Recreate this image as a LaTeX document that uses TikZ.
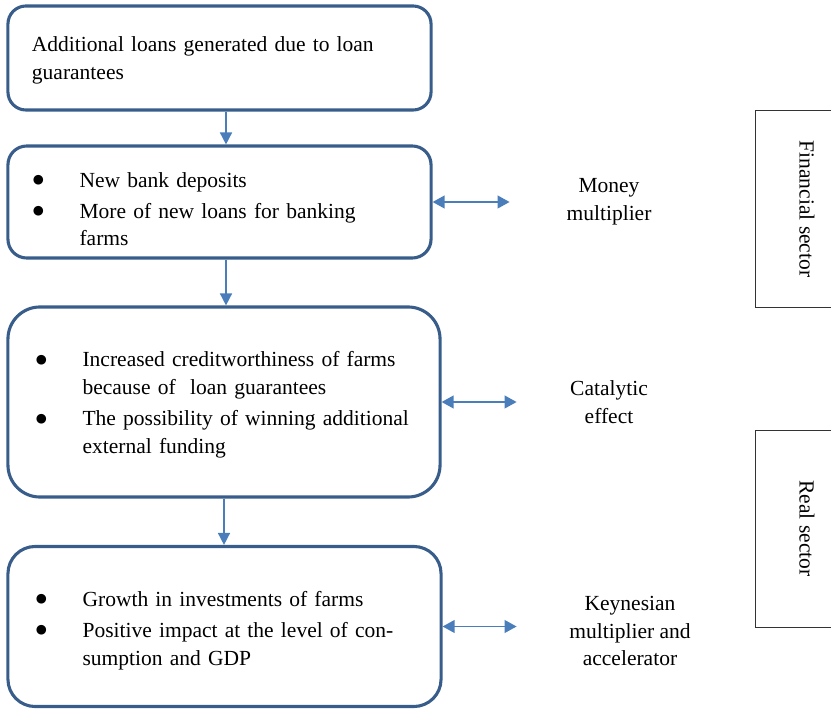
\documentclass[tikz,border=0pt]{standalone}
\usepackage{fontspec}
\setmainfont{Liberation Serif}
\newfontfamily\symfont{DejaVu Sans}
\usepackage{xcolor}
\usepackage{tikz}
\usetikzlibrary{arrows.meta}

\definecolor{boxblue}{HTML}{385D8A}
\definecolor{arrowblue}{HTML}{4A7EBB}

\newcommand{\bul}[1]{\makebox[1.14cm][l]{\hspace{-0.03cm}\raisebox{0.09cm}{\symfont\fontsize{9pt}{9pt}\selectfont ●}}\mbox{#1}}
\newcommand{\bulcont}[1]{\hspace*{1.14cm}\mbox{#1}}

\tikzset{
    flowbox/.style={draw=boxblue, line width=2.2pt, rounded corners=#1, align=left, inner ysep=0pt},
    flowarrow/.style={color=arrowblue, line width=1.1pt, -{Triangle[length=0.3cm,width=0.3cm]}},
    sidearrow/.style={color=arrowblue, line width=1.1pt, {Triangle[length=0.3cm,width=0.32cm]}-{Triangle[length=0.3cm,width=0.32cm]}},
    effect/.style={align=center, inner sep=0pt},
    sector/.style={draw=black!80, line width=0.6pt, rotate=-90, inner sep=0pt, minimum width=4.925cm, minimum height=2.6cm}
}

\begin{document}
\begin{tikzpicture}[x=0.025cm, y=-0.025cm, font=\fontsize{15.3pt}{19.6pt}\selectfont]
        \useasboundingbox (0,0) rectangle (831,709);

        % chain of effects
        \node[flowbox=0.45cm, minimum height=2.6cm, text width=9.375cm, inner xsep=0.6cm] (loans) at (219.5,58)
            {\rule{0pt}{0.5cm}Additional loans generated due to loan\\guarantees};
        \node[flowbox=0.47cm, minimum height=2.8cm, text width=9.275cm, inner xsep=0.65cm] (deposits) at (219.5,202)
            {\rule{0pt}{0.725cm}\bul{New bank deposits}\\[0.09cm]
             \bul{More of new loans for banking}\\
             \bulcont{farms}};
        \node[flowbox=0.8cm, minimum height=4.75cm, text width=9.35cm, inner xsep=0.725cm] (credit) at (224,402)
            {\rule{0pt}{0.525cm}\bul{Increased creditworthiness of farms}\\
             \bulcont{because of\ \ loan guarantees}\\[0.1cm]
             \bul{The possibility of winning additional}\\
             \bulcont{external funding}};
        \node[flowbox=0.68cm, minimum height=4cm, text width=9.375cm, inner xsep=0.725cm] (growth) at (224.5,626.5)
            {\rule{0pt}{0.575cm}\bul{Growth in investments of farms}\\[0.09cm]
             \bul{Positive impact at the level of con-}\\
             \bulcont{sumption and GDP}};

        \draw[flowarrow] ([xshift=0.1625cm]loans.south) -- ([xshift=0.1625cm]loans.south |- deposits.north);
        \draw[flowarrow] ([xshift=0.1625cm]deposits.south) -- ([xshift=0.1625cm]deposits.south |- credit.north);
        \draw[flowarrow] (credit.south) -- (credit.south |- growth.north);

        % multipliers
        \node[effect] (money) at (609,202) {Money\\multiplier};
        \node[effect] (catalytic) at (609,402) {Catalytic\\effect};
        \node[effect] (keynes) at (630,631) {Keynesian\\multiplier and\\accelerator};

        \draw[sidearrow] (deposits.east) -- ++(77,0) coordinate (moneyend);
        \draw[sidearrow] (credit.east) -- ++(75,0) coordinate (catalyticend);
        \draw[sidearrow] (growth.east) -- ++(74,0) coordinate (keynesend);

        % sectors
        \node[sector] (financial) at (807,209) {Financial sector};
        \node[sector] (real) at (807,528.5) {Real sector};
\end{tikzpicture}
\end{document}
